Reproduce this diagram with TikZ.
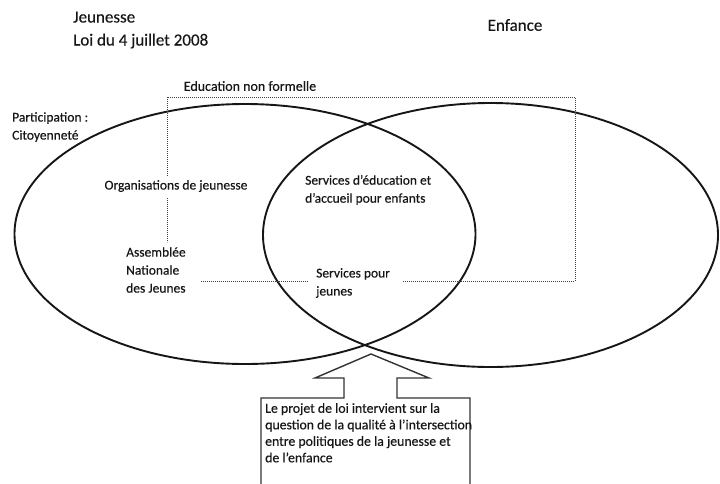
\documentclass[tikz,border=0pt]{standalone}
\usepackage{fontspec}
\setmainfont{Carlito}[FakeBold=0.35]
\usetikzlibrary{positioning}
\definecolor{ink}{HTML}{161616}
\tikzset{
x=1pt, y=-1pt, % one unit is one pixel, y runs downwards
every node/.style={inner sep=0pt, text=ink}, % sets the properties for each node
txt/.style={align=left, font=\fontsize{13.5}{18}\selectfont}, % text inside the ovals
head/.style={align=left, font=\fontsize{17}{23}\selectfont}, % the two titles
oval/.style={draw=ink, line width=1.9pt}, % the two sets
dotline/.style={draw=black!75, line width=0.9pt, dash pattern=on 0.8pt off 1.2pt}, % non formal education frame
callout/.style={draw=black!80, line width=1.4pt}, % arrow box
}
\begin{document}
\begin{tikzpicture}
\useasboundingbox (0,0) rectangle (720,483);
\clip (0,0) rectangle (720,483);
% titles
\node[head, anchor=west] (jeu) at (73,30) {Jeunesse\\Loi du 4 juillet 2008};
\node[head] (enf) at (515,25) {Enfance};
% the two sets
\draw[oval] (245,234) ellipse [x radius=230.5pt, y radius=130pt];
\draw[oval] (490.5,235) ellipse [x radius=227.5pt, y radius=132pt];
% labels
\node[txt, font=\fontsize{14}{18}\selectfont] (edu) at (250,86) {Education non formelle};
\node[txt, anchor=west] (part) at (12,127) {Participation :\\Citoyenneté};
\node[txt] (org) at (176,186) {Organisations de jeunesse};
\node[txt, anchor=west] (anj) at (126,270) {Assemblée\\Nationale\\des Jeunes};
\node[txt, anchor=west] (sej) at (305,190) {Services d’éducation et\\d’accueil pour enfants};
\node[txt, anchor=west] (spj) at (316,283) {Services pour\\jeunes};
% frame of non formal education
\coordinate (tl) at (167,97);
\coordinate (br) at (575,281);
\draw[dotline] (org.north -| tl) ++(0,-4) -- (tl) -| (br) -- ([xshift=13pt]spj.east |- br);
\draw[dotline] ([yshift=-6pt]org.south -| tl) -- ([yshift=5pt]anj.north -| tl);
\draw[dotline] ([xshift=15pt]anj.east |- br) -- ([xshift=-8pt]spj.west |- br);
% arrow box
\draw[callout] (261,490) -- (261,398) -- (344,398) -- (344,378) -- (315,378) -- (371,354)
 -- (429,378) -- (397,378) -- (397,398) -- (470,398) -- (470,490);
\node[txt, anchor=north west, font=\fontsize{13.8}{16.5}\selectfont] (note) at (265,403)
 {Le projet de loi intervient sur la\\question de la qualité à l’intersection\\entre politiques de la jeunesse et\\de l’enfance};
\end{tikzpicture}
\end{document}
